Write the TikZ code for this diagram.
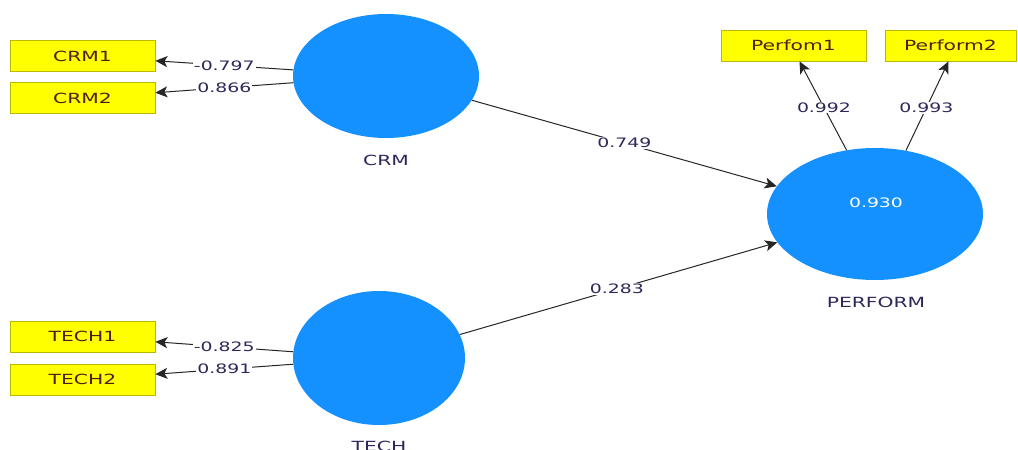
\documentclass[tikz,border=0pt]{standalone}
\usepackage{fontspec}
\setmainfont{DejaVu Sans}
\usetikzlibrary{shapes.geometric,arrows.meta}
\definecolor{lvblue}{RGB}{20,144,255}
\definecolor{mvyellow}{RGB}{255,255,0}
\definecolor{mvborder}{RGB}{185,185,0}
\definecolor{mvtext}{RGB}{80,30,20}
\definecolor{lbltext}{RGB}{45,40,90}
\newcommand{\sx}[1]{\scalebox{1.45}[1]{#1}}
\begin{document}
\begin{tikzpicture}[x=1pt,y=-1pt,
  latent/.style={ellipse, fill=lvblue, draw=none, inner sep=0pt},
  mv/.style={rectangle, draw=mvborder, line width=0.8pt, fill=mvyellow, minimum width=145pt, minimum height=31pt, inner sep=0pt, text=mvtext, font=\fontsize{14}{14}\selectfont},
  load/.style={fill=white, inner sep=1pt, text=lbltext, font=\fontsize{13}{13}\selectfont},
  lvname/.style={text=lbltext, font=\fontsize{14}{14}\selectfont},
  conn/.style={draw=black!85, line width=1pt, -{Stealth[length=12pt,width=11pt,inset=3pt]}}]
\useasboundingbox[fill=white] (0,0) rectangle (1018,450);
\clip (0,0) rectangle (1018,450);

% latent variables
\node[latent, minimum width=186pt, minimum height=124pt] (crm) at (386,76) {};
\node[latent, minimum width=172pt, minimum height=134pt] (tech) at (379,358) {};
\node[latent, minimum width=216pt, minimum height=132pt] (perf) at (875,214) {};
\node[text=white, font=\fontsize{13}{13}\selectfont] (r2) at (876,203) {\sx{0.930}};

\node[lvname] (crmname) at (386,160) {\sx{CRM}};
\node[lvname] (techname) at (379,446) {\sx{TECH}};
\node[lvname] (perfname) at (876,302) {\sx{PERFORM}};

% manifest variables
\node[mv] (crm1) at (82.5,56) {\sx{CRM1}};
\node[mv] (crm2) at (82.5,98) {\sx{CRM2}};
\node[mv] (tech1) at (82.5,336.5) {\sx{TECH1}};
\node[mv] (tech2) at (82.5,379.5) {\sx{TECH2}};
\node[mv] (perf1) at (793.5,45.5) {\sx{Perfom1}};
\node[mv, minimum width=131pt] (perf2) at (950.5,45.5) {\sx{Perform2}};

% outer loadings
\draw[conn] (crm) -- node[load,pos=0.5]{\sx{-0.797}} (crm1);
\draw[conn] (crm) -- node[load,pos=0.5]{\sx{0.866}} (crm2);
\draw[conn] (tech) -- node[load,pos=0.5]{\sx{-0.825}} (tech1);
\draw[conn] (tech) -- node[load,pos=0.5]{\sx{0.891}} (tech2);
\draw[conn] (perf.114) -- node[load,pos=0.48]{\sx{0.992}} ([xshift=6pt]perf1.south);
\draw[conn] (perf.64) -- node[load,pos=0.48]{\sx{0.993}} ([xshift=-2pt]perf2.south);

% path coefficients
\draw[conn] (crm) -- node[load,pos=0.5]{\sx{0.749}} (perf);
\draw[conn] (tech) -- node[load,pos=0.495]{\sx{0.283}} (perf);
\end{tikzpicture}
\end{document}
